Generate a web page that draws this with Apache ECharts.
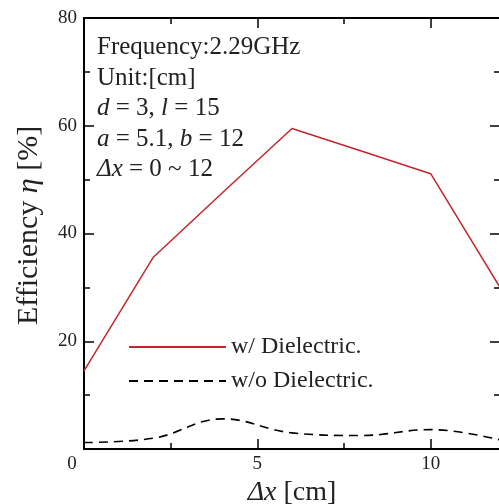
<!DOCTYPE html>
<html>
<head>
<meta charset="utf-8">
<script src="https://cdn.jsdelivr.net/npm/echarts@6/dist/echarts.min.js"></script>
<style>
html, body { margin: 0; padding: 0; background: #fff; }
#chart { width: 499px; height: 504px; }
</style>
</head>
<body>
<div id="chart"></div>
<script>
// data
var dx_values = [0, 2, 4, 6, 8, 10, 12];
var eff_with = [14.5, 35.6, 47.6, 59.5, 55.3, 51.1, 30.0];
var eff_without = [1.2, 2.0, 5.6, 3.0, 2.5, 3.6, 1.7];
var series_names = ['w/ Dielectric.', 'w/o Dielectric.'];
var note_lines = [
    'Frequency:2.29GHz',
    'Unit:[cm]',
    '{i|d} = 3, {i|l} = 15',
    '{i|a} = 5.1, {i|b} = 12',
    '{i|\u0394x} = 0 ~ 12'
];

var serif = '"Liberation Serif", "DejaVu Serif", serif';

function pairs(xs, ys){
    var out = [];
    for(var i=0;i<xs.length;i++){
        out.push([xs[i], ys[i]]);
    }
    return out;
}

var chart = echarts.init(document.getElementById('chart'));

var notes = [];
for(var i=0;i<note_lines.length;i++){
    notes.push({
        type: 'text',
        left: 97,
        top: 35 + i * 30.5,
        style: {
            text: note_lines[i],
            font: '25px ' + serif,
            fill: '#222',
            rich: {
                i: { fontStyle: 'italic', fontSize: 25, fontFamily: serif, fill: '#222' }
            }
        }
    });
}

var axisLine = { show: true, onZero: false, lineStyle: { color: '#000', width: 2 } };
var tick = { show: true, inside: true, length: 10, lineStyle: { color: '#000', width: 1.5 } };
var minor = { show: true, splitNumber: 2, length: 6, lineStyle: { color: '#000', width: 1.5 } };

var option = {
    animation: false,
    backgroundColor: '#fff',
    textStyle: { fontFamily: serif },
    grid: {
        left: 84,
        top: 18,
        right: -1,
        bottom: 55,
        outerBoundsMode: 'none'
    },
    legend: {
        orient: 'vertical',
        left: 128,
        top: 335,
        padding: 0,
        itemWidth: 97,
        itemHeight: 14,
        itemGap: 10,
        data: series_names,
        itemStyle: { opacity: 0 },
        textStyle: { fontFamily: serif, fontSize: 24, color: '#222' }
    },
    xAxis: [
        {
            type: 'value',
            position: 'bottom',
            min: 0,
            max: 12,
            interval: 5,
            name: '{i|\u0394x} [cm]',
            nameLocation: 'middle',
            nameGap: 20,
            nameTextStyle: {
                fontFamily: serif, fontSize: 28, color: '#222',
                rich: { i: { fontStyle: 'italic', fontFamily: serif, fontSize: 28, color: '#222' } }
            },
            axisLine: axisLine,
            axisTick: tick,
            minorTick: minor,
            splitLine: { show: false },
            axisLabel: {
                showMaxLabel: false,
                margin: 6,
                fontFamily: serif,
                fontSize: 19,
                color: '#222',
                formatter: function(v){
                    if(v === 0) return '{z|0}';
                    return '' + v;
                },
                rich: { z: { padding: [0, 24, 0, 0], fontFamily: serif, fontSize: 19, color: '#222' } }
            }
        },
        {
            type: 'value',
            position: 'top',
            min: 0,
            max: 12,
            interval: 5,
            axisLine: axisLine,
            axisTick: tick,
            minorTick: minor,
            splitLine: { show: false },
            axisLabel: { show: false }
        }
    ],
    yAxis: [
        {
            type: 'value',
            position: 'left',
            min: 0,
            max: 80,
            interval: 20,
            name: 'Efficiency {i|\u03b7} [%]',
            nameLocation: 'middle',
            nameGap: 40,
            nameTextStyle: {
                fontFamily: serif, fontSize: 30, color: '#222',
                padding: [0, 0, 0, 16],
                rich: { i: { fontStyle: 'italic', fontFamily: serif, fontSize: 30, color: '#222' } }
            },
            axisLine: axisLine,
            axisTick: tick,
            minorTick: minor,
            splitLine: { show: false },
            axisLabel: {
                showMinLabel: false,
                margin: 7,
                fontFamily: serif,
                fontSize: 19,
                color: '#222'
            }
        },
        {
            type: 'value',
            position: 'right',
            min: 0,
            max: 80,
            interval: 20,
            axisLine: axisLine,
            axisTick: tick,
            minorTick: minor,
            splitLine: { show: false },
            axisLabel: { show: false }
        }
    ],
    graphic: notes,
    series: [
        {
            name: series_names[0],
            type: 'line',
            data: pairs(dx_values, eff_with),
            symbol: 'none',
            lineStyle: { color: '#c4262e', width: 1.5 },
            itemStyle: { color: '#c4262e' }
        },
        {
            name: series_names[1],
            type: 'line',
            data: pairs(dx_values, eff_without),
            symbol: 'none',
            smooth: 0.4,
            lineStyle: { color: '#000', width: 1.6, type: [9, 6] },
            itemStyle: { color: '#000' }
        }
    ]
};

chart.setOption(option);
</script>
</body>
</html>
